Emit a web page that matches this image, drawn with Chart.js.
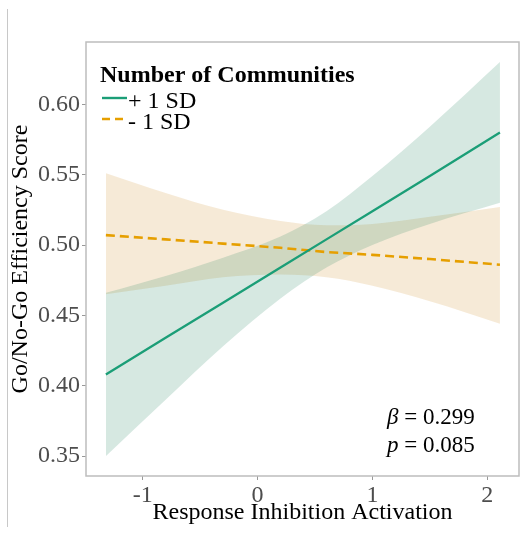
<!DOCTYPE html>
<html><head><meta charset="utf-8">
<script src="https://cdn.jsdelivr.net/npm/chart.js@4.4.0/dist/chart.umd.min.js"></script>
<style>html,body{margin:0;padding:0;background:#fff;}#wrap{width:520px;height:533px;position:relative;}</style>
</head><body><div id="wrap"><canvas id="c"></canvas></div>
<script>
// ---- data ----
const xValues    = [-1.32, -0.8, -0.3, 0.2, 0.6, 1.0, 1.5, 2.11];
const plusFit    = [0.408, 0.434, 0.459, 0.484, 0.504, 0.524, 0.549, 0.580];
const plusUpper  = [0.466, 0.478, 0.491, 0.506, 0.524, 0.549, 0.584, 0.630];
const plusLower  = [0.350, 0.390, 0.428, 0.462, 0.484, 0.500, 0.515, 0.530];
const minusFit   = [0.507, 0.504, 0.501, 0.498, 0.495, 0.493, 0.490, 0.486];
const minusUpper = [0.551, 0.537, 0.525, 0.517, 0.514, 0.515, 0.520, 0.527];
const minusLower = [0.465, 0.471, 0.477, 0.479, 0.477, 0.471, 0.460, 0.444];
const seriesNames = ['+ 1 SD', '- 1 SD'];
const legendTitle = 'Number of Communities';
const yTicks = [0.35, 0.40, 0.45, 0.50, 0.55, 0.60];
const xTicks = [-1, 0, 1, 2];
const xTitle = 'Response Inhibition Activation';
const yTitle = 'Go/No-Go Efficiency Score';
const statBeta = '0.299';
const statP = '0.085';

const GREEN = '#1b9e77', ORANGE = '#e69f00';
const FONT = '"Liberation Serif", "Times New Roman", serif';
const pts = arr => xValues.map((x, i) => ({x: x, y: arr[i]}));

const decor = {
  id: 'decor',
  beforeDraw(chart) {
    const ctx = chart.ctx; ctx.save();
    ctx.strokeStyle = '#c8c8c8'; ctx.lineWidth = 1;
    ctx.beginPath(); ctx.moveTo(7.5, 9); ctx.lineTo(7.5, 527); ctx.stroke();
    ctx.restore();
  },
  afterDraw(chart) {
    const ctx = chart.ctx, a = chart.chartArea; ctx.save();
    ctx.strokeStyle = '#bdbdbd'; ctx.lineWidth = 1.5;
    ctx.strokeRect(a.left, a.top, a.right - a.left, a.bottom - a.top);
    // legend
    ctx.fillStyle = '#000'; ctx.textBaseline = 'alphabetic'; ctx.textAlign = 'left';
    ctx.font = 'bold 24px ' + FONT;
    ctx.fillText(legendTitle, 100, 82);
    ctx.font = '24px ' + FONT;
    const rows = [{n: seriesNames[0], c: GREEN, d: [], y: 98, b: 108},
                  {n: seriesNames[1], c: ORANGE, d: [8, 5], y: 119, b: 129}];
    rows.forEach(r => {
      ctx.strokeStyle = r.c; ctx.lineWidth = 2.4; ctx.setLineDash(r.d);
      ctx.beginPath(); ctx.moveTo(102, r.y); ctx.lineTo(127, r.y); ctx.stroke();
      ctx.setLineDash([]);
      ctx.fillText(r.n, 128, r.b);
    });
    // statistics annotation
    const line = (sym, val, y) => {
      ctx.font = 'italic 23px ' + FONT;
      ctx.fillText(sym, 387, y);
      const w = ctx.measureText(sym).width;
      ctx.font = '23px ' + FONT;
      ctx.fillText(' = ' + val, 387 + w, y);
    };
    line('\u03B2', statBeta, 424);
    line('p', statP, 452);
    ctx.restore();
  }
};

const bandStyle = {pointRadius: 0, borderWidth: 0, cubicInterpolationMode: 'monotone'};

new Chart(document.getElementById('c'), {
  type: 'line',
  data: {
    datasets: [
      {label: seriesNames[0], data: pts(plusFit), borderColor: GREEN, borderWidth: 2.3, pointRadius: 0, fill: false},
      {label: seriesNames[1], data: pts(minusFit), borderColor: ORANGE, borderWidth: 2.6, borderDash: [9, 5], pointRadius: 0, fill: false},
      Object.assign({label: 'plusUpper', data: pts(plusUpper), fill: '+1', backgroundColor: 'rgba(27,127,88,0.18)', borderColor: 'rgba(0,0,0,0)'}, bandStyle),
      Object.assign({label: 'plusLower', data: pts(plusLower), fill: false, borderColor: 'rgba(0,0,0,0)'}, bandStyle),
      Object.assign({label: 'minusUpper', data: pts(minusUpper), fill: '+1', backgroundColor: 'rgba(205,138,33,0.18)', borderColor: 'rgba(0,0,0,0)'}, bandStyle),
      Object.assign({label: 'minusLower', data: pts(minusLower), fill: false, borderColor: 'rgba(0,0,0,0)'}, bandStyle)
    ]
  },
  options: {
    responsive: true, maintainAspectRatio: false, animation: false,
    layout: {padding: {left: 6, top: 42, right: 1, bottom: 0}},
    plugins: {legend: {display: false}, tooltip: {enabled: false}},
    scales: {
      x: {
        type: 'linear', min: -1.493, max: 2.276,
        afterBuildTicks: s => { s.ticks = xTicks.map(v => ({value: v})); },
        afterFit: s => { s.height = 57; },
        ticks: {font: {family: FONT, size: 24}, color: '#4d4d4d', padding: 1, callback: v => String(v)},
        grid: {display: true, drawOnChartArea: false, drawTicks: true, tickLength: 4, color: '#999', lineWidth: 1},
        border: {display: false},
        title: {display: true, text: xTitle, font: {family: FONT, size: 24}, color: '#000', padding: {top: 0, bottom: 6}}
      },
      y: {
        type: 'linear', min: 0.3358, max: 0.6443,
        afterBuildTicks: s => { s.ticks = yTicks.map(v => ({value: v})); },
        afterFit: s => { s.width = 80; },
        ticks: {font: {family: FONT, size: 24}, color: '#4d4d4d', padding: 2, callback: v => Number(v).toFixed(2)},
        grid: {display: true, drawOnChartArea: false, drawTicks: true, tickLength: 4, color: '#999', lineWidth: 1},
        border: {display: false},
        title: {display: true, text: yTitle, font: {family: FONT, size: 24}, color: '#000', padding: {top: 0, bottom: 0}}
      }
    }
  },
  plugins: [decor]
});
</script></body></html>
